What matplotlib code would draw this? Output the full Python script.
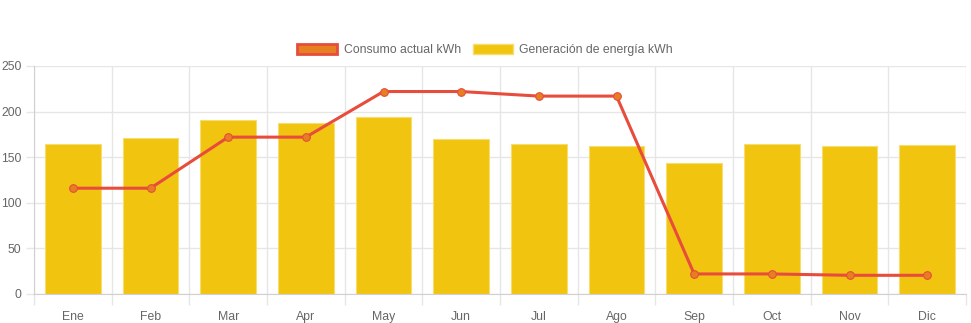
import matplotlib
matplotlib.use("Agg")
import matplotlib.pyplot as plt
from matplotlib.patches import Patch
import numpy as np

months = ["Ene", "Feb", "Mar", "Apr", "May", "Jun", "Jul", "Ago", "Sep", "Oct", "Nov", "Dic"]
generacion = [164, 171, 191, 188, 194, 170, 165, 162, 144, 164, 162, 163]
consumo = [116, 116, 172, 172, 222, 222, 217, 217, 22, 22, 20.5, 20.5]
yticks = [0, 50, 100, 150, 200, 250]

plt.rcParams['font.family'] = ['Liberation Sans', 'DejaVu Sans']
fig = plt.figure(figsize=(9.71, 3.23), dpi=100)
W, H = 971, 323
ax = fig.add_axes([34 / W, (H - 294) / H, 932 / W, 228 / H])

x = np.arange(len(months))
grid_c = "#e6e6e6"
fs = 8.8
ax.bar(x, generacion, width=0.72, color="#F1C40F", edgecolor="#F7DC6F", linewidth=0.8, zorder=2)
ax.plot(x, consumo, color="#E74C3C", linewidth=2.2, marker="o", markersize=5.5,
        markerfacecolor="#E67E22", markeredgecolor="#E74C3C", markeredgewidth=0.8, zorder=3)

ax.set_xlim(-0.5, len(months) - 0.5)
ax.set_ylim(0, 250)
ax.set_xticks(x)
ax.set_xticklabels(months)
ax.set_xticks(np.arange(-0.5, len(months), 1.0), minor=True)
ax.set_yticks(yticks)
ax.tick_params(axis="x", which="major", length=0, pad=12, labelsize=fs, labelcolor="#666666")
ax.tick_params(axis="x", which="minor", length=8, color=grid_c, width=1)
ax.tick_params(axis="y", length=6, color=grid_c, width=1, pad=3, labelsize=fs, labelcolor="#666666")
ax.grid(True, which="minor", axis="x", color=grid_c, linewidth=1, zorder=0)
ax.grid(True, which="major", axis="y", color=grid_c, linewidth=1, zorder=0)
for s in ["top", "right"]:
    ax.spines[s].set_visible(False)
ax.spines["left"].set_color("#d0d0d0")
ax.spines["bottom"].set_color("#d0d0d0")
ax.set_axisbelow(True)

handles = [Patch(facecolor="#E67E22", edgecolor="#E74C3C", linewidth=2, label="Consumo actual kWh"),
           Patch(facecolor="#F1C40F", edgecolor="#F7DC6F", linewidth=1, label="Generación de energía kWh")]
fig.legend(handles=handles, loc="center", bbox_to_anchor=(485 / W, 1 - 50 / H), ncol=2, frameon=False,
           fontsize=fs, handlelength=3.3, handleheight=0.9, columnspacing=1.0, handletextpad=0.5,
           labelcolor="#666666")

fig.savefig("out.png", dpi=100)
